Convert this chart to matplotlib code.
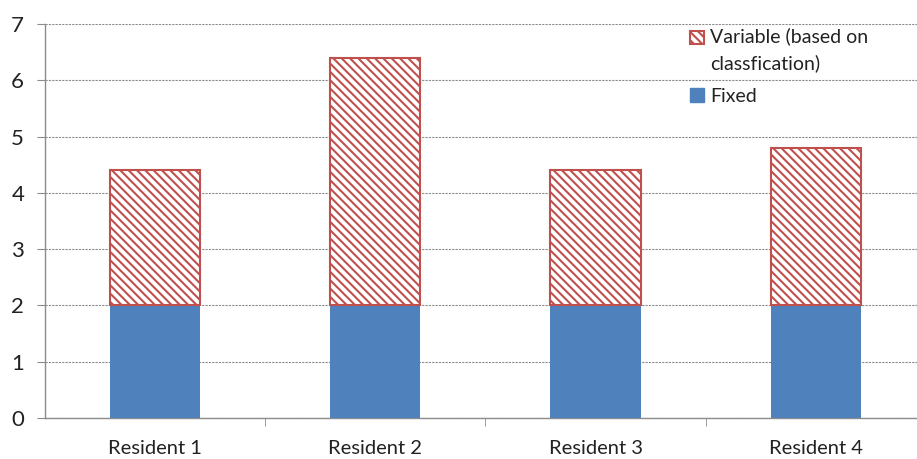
import matplotlib
matplotlib.use("Agg")
import matplotlib.pyplot as plt
from matplotlib.patches import Patch

categories = ["Resident 1", "Resident 2", "Resident 3", "Resident 4"]
fixed = [2, 2, 2, 2]
variable = [2.4, 4.4, 2.4, 2.8]
y_ticks = [0, 1, 2, 3, 4, 5, 6, 7]

plt.rcParams["font.family"] = ["Lato", "DejaVu Sans"]
plt.rcParams["hatch.linewidth"] = 1.5

W, H = 917, 459
fig = plt.figure(figsize=(W / 100, H / 100), dpi=100)
ax = fig.add_axes([45 / W, (H - 418) / H, (917 - 45) / W, (418 - 24) / H])

blue = "#4F81BD"
red = "#C0504D"
hatch = "\\\\\\\\"
x = range(len(categories))
ax.bar(x, fixed, width=0.41, color=blue, zorder=3)
ax.bar(x, variable, bottom=fixed, width=0.41, facecolor="white",
       edgecolor=red, hatch=hatch, linewidth=1.5, zorder=3)

ax.set_ylim(0, 7)
ax.set_xlim(-0.5, 3.46)
ax.set_yticks(y_ticks)
ax.set_yticklabels([str(v) for v in y_ticks], fontsize=16, color="#222222")
ax.yaxis.grid(True, linestyle=(0, (2, 1)), color="#8c8c8c", linewidth=0.8, zorder=0)

ax.set_xticks(list(x))
ax.set_xticklabels(categories, fontsize=14.5, color="#222222")
ax.tick_params(axis="x", length=0, pad=16)
ax.set_xticks([i - 0.5 for i in range(1, len(categories))], minor=True)
ax.tick_params(axis="x", which="minor", length=6, color="#8c8c8c", direction="out")
ax.tick_params(axis="y", length=6, color="#8c8c8c", pad=9)

for s in ["top", "right"]:
    ax.spines[s].set_visible(False)
for s in ["left", "bottom"]:
    ax.spines[s].set_color("#8c8c8c")
    ax.spines[s].set_linewidth(1.0)

handles = [
    Patch(facecolor="white", edgecolor=red, hatch=hatch, linewidth=1.5,
          label="Variable (based on\nclassfication)"),
    Patch(facecolor=blue, edgecolor=blue, label="Fixed"),
]
leg = ax.legend(handles=handles, loc="upper left", bbox_to_anchor=(0.72, 1.036),
                frameon=False, fontsize=14, handlelength=0.7, handleheight=0.7,
                handletextpad=0.3, labelspacing=0.8)
for t in leg.get_texts():
    t.set_color("#222222")
    t.set_linespacing(1.6)
# line the hatched swatch up with the first line of its two-line label
top_patch = leg.get_patches()[0]
top_patch.set_y(top_patch.get_y() + 9)

fig.savefig("out.png", dpi=100)
